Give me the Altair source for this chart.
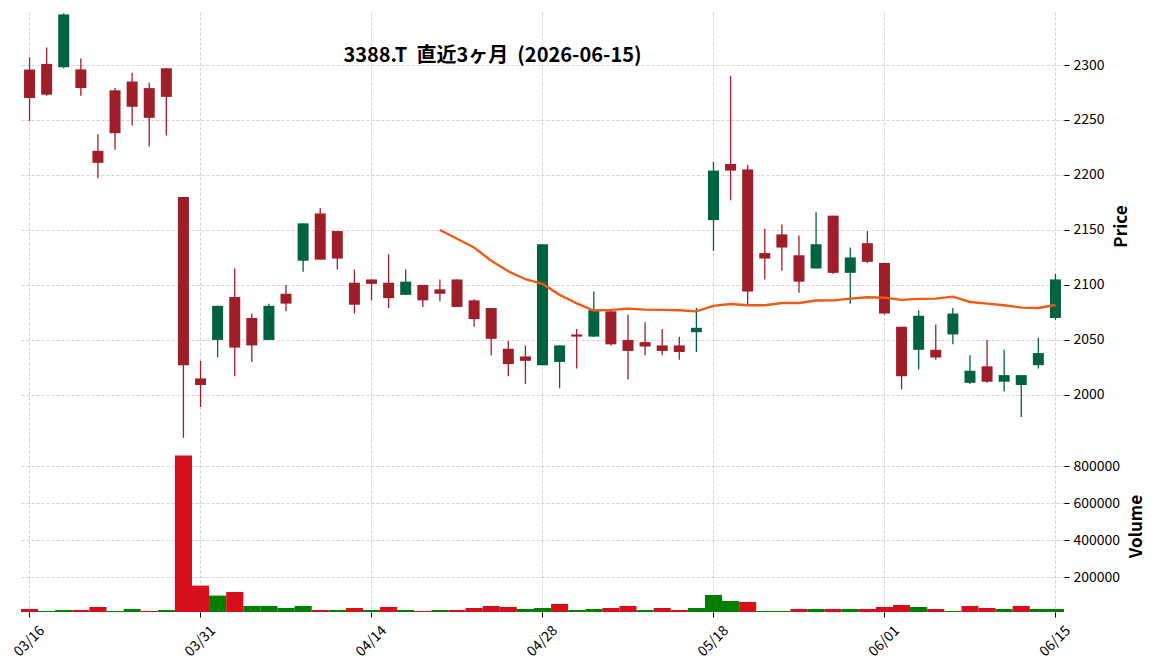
import altair as alt
import pandas as pd
import numpy as np

dates = [
    "03/16", "03/17", "03/18", "03/19", "03/23", "03/24", "03/25", "03/26", "03/27", "03/30", "03/31",
    "04/01", "04/02", "04/03", "04/06", "04/07", "04/08", "04/09", "04/10", "04/13", "04/14",
    "04/15", "04/16", "04/17", "04/20", "04/21", "04/22", "04/23", "04/24", "04/27", "04/28",
    "04/30", "05/01", "05/07", "05/08", "05/11", "05/12", "05/13", "05/14", "05/15", "05/18",
    "05/19", "05/20", "05/21", "05/22", "05/25", "05/26", "05/27", "05/28", "05/29", "06/01",
    "06/02", "06/03", "06/04", "06/05", "06/08", "06/09", "06/10", "06/11", "06/12", "06/15",
]
opens = [2296, 2301, 2298, 2296, 2222, 2277, 2285, 2279, 2297, 2180, 2015,
         2050, 2089, 2070, 2050, 2092, 2122, 2165, 2149, 2102, 2105,
         2102, 2091, 2100, 2096, 2105, 2086, 2079, 2042, 2035, 2027,
         2030, 2055, 2053, 2076, 2050, 2048, 2045, 2045, 2057, 2159,
         2210, 2205, 2129, 2146, 2127, 2115, 2163, 2111, 2138, 2120,
         2062, 2041, 2041, 2055, 2011, 2026, 2012, 2009, 2027, 2070]
highs = [2307, 2316, 2347, 2306, 2237, 2279, 2293, 2284, 2297, 2180, 2031,
         2081, 2115, 2074, 2083, 2100, 2156, 2170, 2149, 2114, 2105,
         2128, 2114, 2100, 2105, 2105, 2087, 2079, 2049, 2045, 2137,
         2045, 2060, 2094, 2076, 2073, 2066, 2060, 2053, 2079, 2212,
         2290, 2209, 2151, 2155, 2145, 2166, 2163, 2134, 2149, 2120,
         2062, 2077, 2064, 2079, 2036, 2050, 2041, 2018, 2052, 2110]
lows = [2249, 2272, 2297, 2272, 2197, 2223, 2245, 2226, 2236, 1961, 1989,
        2034, 2017, 2030, 2050, 2076, 2112, 2123, 2114, 2074, 2086,
        2079, 2091, 2080, 2085, 2080, 2062, 2036, 2017, 2010, 2027,
        2006, 2024, 2053, 2045, 2014, 2036, 2036, 2032, 2039, 2131,
        2177, 2082, 2105, 2113, 2093, 2115, 2110, 2083, 2120, 2073,
        2005, 2023, 2032, 2046, 2010, 2011, 2003, 1980, 2024, 2068]
closes = [2270, 2273, 2346, 2279, 2211, 2238, 2262, 2252, 2271, 2027, 2009,
          2081, 2043, 2045, 2081, 2083, 2156, 2123, 2124, 2082, 2101,
          2088, 2103, 2086, 2092, 2080, 2069, 2051, 2028, 2031, 2137,
          2045, 2053, 2077, 2046, 2040, 2044, 2040, 2039, 2061, 2204,
          2204, 2094, 2124, 2134, 2103, 2137, 2111, 2125, 2121, 2074,
          2017, 2072, 2034, 2074, 2022, 2012, 2018, 2018, 2038, 2105]
volumes = [28800, 18000, 23400, 23400, 39600, 18000, 28800, 18000, 23400, 857700, 155000,
           101000, 120700, 45000, 45000, 34000, 45000, 23400, 23400, 34000, 23400,
           39600, 23400, 18000, 23400, 23400, 34000, 45000, 39600, 28800, 34000,
           55900, 23400, 28800, 34000, 45000, 23400, 34000, 23400, 34000, 104500,
           72000, 66700, 18000, 18000, 28800, 28800, 28800, 28800, 28800, 39600,
           50500, 39600, 28800, 18000, 45000, 34000, 28800, 45000, 28800, 28800]
volume_dir = ["down", "up", "up", "down", "down", "up", "up", "down", "up", "down", "down",
              "up", "down", "up", "up", "up", "up", "down", "up", "down", "up",
              "down", "up", "down", "up", "down", "down", "down", "down", "up", "up",
              "down", "up", "up", "down", "down", "up", "down", "down", "up", "up",
              "up", "down", "up", "up", "down", "up", "down", "up", "down", "down",
              "down", "up", "down", "up", "down", "down", "up", "down", "up", "up"]
ma_start = 24
ma_values = [2150, 2142, 2134, 2122, 2112.4, 2105.2, 2101, 2091, 2083.3, 2076.7,
             2077.3, 2078.5, 2077.6, 2077.3, 2077, 2076, 2081, 2082.7, 2081.5, 2081.5,
             2083.6, 2083.6, 2085.8, 2086, 2087.6, 2088.8, 2088.5, 2086.4, 2087.3, 2087.6,
             2089.4, 2084.5, 2083, 2081.5, 2079.4, 2079, 2081.8]
price_ticks = [2000, 2050, 2100, 2150, 2200, 2250, 2300]
volume_ticks = [200000, 400000, 600000, 800000]
date_ticks = ["03/16", "03/31", "04/14", "04/28", "05/18", "06/01", "06/15"]
title_text = "3388.T\u00a0\u00a0直近3ヶ月\u00a0\u00a0(2026-06-15)"

FONT = "Noto Sans CJK JP"
W = 1043
CANDLE_UP, CANDLE_DOWN = "#006340", "#9e1f29"
VOL_UP, VOL_DOWN = "#008000", "#d50f1c"

df = pd.DataFrame(dict(date=dates, open=opens, high=highs, low=lows,
                       close=closes, volume=volumes, vdir=volume_dir))
df["cdir"] = np.where(df["close"] >= df["open"], "up", "down")
ma_df = pd.DataFrame(dict(date=dates[ma_start:], ma=ma_values))
title_df = pd.DataFrame(dict(t=[title_text]))

xscale = alt.Scale(domain=dates, paddingInner=0, paddingOuter=0)
grid_kw = dict(gridDash=[3, 2], gridColor="#c8c8c8", gridWidth=0.8, domain=False)

x_price = alt.X("date:O", scale=xscale,
                axis=alt.Axis(values=date_ticks, labels=False, ticks=False, title=None,
                              grid=True, bandPosition=0.5, **grid_kw))
y_price_scale = alt.Scale(domain=[1959, 2348.2], zero=False, nice=False)
y_price_axis = alt.Axis(orient="right", values=price_ticks, format="d", title="Price", grid=True,
                        titleAngle=270, titleBaseline="top", titleFontSize=17,
                        titleFontWeight="bold", labelFontSize=14, tickSize=5,
                        labelPadding=4, titlePadding=9, **grid_kw)
cdir_color = alt.Color("cdir:N", scale=alt.Scale(domain=["up", "down"],
                                                 range=[CANDLE_UP, CANDLE_DOWN]), legend=None)

wicks = alt.Chart(df).mark_rule(strokeWidth=1.3).encode(
    x=x_price,
    y=alt.Y("low:Q", scale=y_price_scale, axis=y_price_axis),
    y2="high:Q",
    color=cdir_color,
)
bodies = alt.Chart(df).mark_bar(width=11).encode(
    x=x_price,
    y=alt.Y("open:Q", scale=y_price_scale),
    y2="close:Q",
    color=cdir_color,
)
ma_line = alt.Chart(ma_df).mark_line(color="#f05a14", strokeWidth=2.4).encode(
    x=x_price,
    y=alt.Y("ma:Q", scale=y_price_scale),
)
title_mark = alt.Chart(title_df).mark_text(
    fontSize=20, fontWeight="bold", font=FONT, baseline="middle", align="center"
).encode(text="t:N", x=alt.value(471.5), y=alt.value(44))

price = alt.layer(wicks, bodies, ma_line, title_mark).properties(width=W, height=428)

x_vol = alt.X("date:O", scale=xscale,
              axis=alt.Axis(values=date_ticks, title=None, grid=True, bandPosition=0.5,
                            labelAngle=-45, labelAlign="center", labelBaseline="middle",
                            labelFontSize=14, tickSize=5, labelPadding=24, **grid_kw))
vol = alt.Chart(df).mark_bar(clip=True).encode(
    x=x_vol,
    y=alt.Y("volume:Q", scale=alt.Scale(domain=[12400, 942000], zero=False, nice=False),
            axis=alt.Axis(orient="right", values=volume_ticks, format="d", title="Volume",
                          grid=True, titleAngle=270, titleBaseline="top", titleFontSize=17,
                          titleFontWeight="bold", labelFontSize=14, tickSize=5,
                          labelPadding=4, titlePadding=9, **grid_kw)),
    color=alt.Color("vdir:N", scale=alt.Scale(domain=["up", "down"], range=[VOL_UP, VOL_DOWN]),
                    legend=None),
).properties(width=W, height=172)

chart = alt.vconcat(price, vol, spacing=0).resolve_scale(color="independent").properties(
    padding={"left": 11, "top": 12, "right": 5, "bottom": 5}
).configure(font=FONT).configure_view(stroke=None).configure_axis(
    labelColor="#000", titleColor="#000", tickColor="#000", labelFont=FONT, titleFont=FONT
)

chart.save("out.html", embed_options={"renderer": "svg", "actions": False})
